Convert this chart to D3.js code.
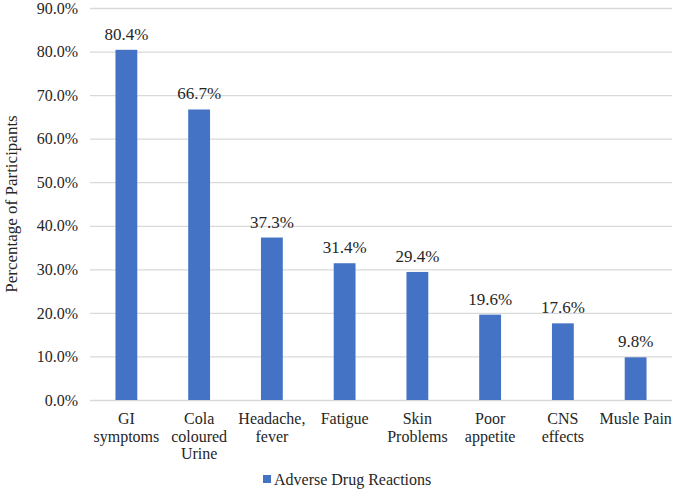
<!DOCTYPE html>
<html><head><meta charset="utf-8">
<script src="https://cdn.jsdelivr.net/npm/d3@7"></script>
<style>body{margin:0;background:#fff}svg{display:block}</style>
</head><body><svg id="c" width="679" height="489" style="font-family:'Liberation Serif',serif"></svg>
<script>
const categories = [["GI","symptoms"],["Cola","coloured","Urine"],["Headache,","fever"],["Fatigue"],["Skin","Problems"],["Poor","appetite"],["CNS","effects"],["Musle Pain"]];
const values = [80.4, 66.7, 37.3, 31.4, 29.4, 19.6, 17.6, 9.8];
const yTicks = [0,10,20,30,40,50,60,70,80,90];
const seriesName = "Adverse Drug Reactions";
const yTitle = "Percentage of Participants";

const FONT = "'Liberation Serif', serif";
const svg = d3.select("#c");
const m = {l:90, r:7, t:8, b:89};
const W = 679, H = 489;
const x = d3.scaleBand().domain(d3.range(values.length)).range([m.l, W-m.r]).paddingInner(0.7).paddingOuter(0.35);
const y = d3.scaleLinear().domain([0,90]).range([H-m.b, m.t]);
const color = "#4472C4";

const yAxis = d3.axisLeft(y).tickValues(yTicks).tickSize(-(W-m.r-m.l)).tickFormat(d=>d.toFixed(1)+"%");
const ya = svg.append("g").attr("transform",`translate(${m.l},0)`).call(yAxis);
ya.attr("font-family", null).attr("font-size", null);
ya.select(".domain").remove();
ya.selectAll(".tick line").attr("stroke","#d9d9d9").attr("stroke-width",1.3);
ya.selectAll(".tick text").attr("x",-12).style("font-size","16px");

svg.selectAll("rect.bar").data(values).join("rect").attr("class","bar")
 .attr("x",(d,i)=>x(i)).attr("width",x.bandwidth())
 .attr("y",d=>y(d)).attr("height",d=>y(0)-y(d)).attr("fill",color);

svg.selectAll("text.lbl").data(values).join("text").attr("class","lbl")
 .attr("x",(d,i)=>x(i)+x.bandwidth()/2).attr("y",d=>y(d)-10)
 .attr("text-anchor","middle").style("font-size","17px").text(d=>d.toFixed(1)+"%");

const cl = svg.selectAll("text.cat").data(categories).join("text").attr("class","cat")
 .attr("text-anchor","middle").style("font-size","16px")
 .attr("transform",(d,i)=>`translate(${x(i)+x.bandwidth()/2},${y(0)+24})`);
cl.selectAll("tspan").data(d=>d).join("tspan").attr("x",0).attr("dy",(d,i)=>i?17.5:0).text(d=>d);

svg.append("text").attr("class","ttl").attr("transform",`translate(17,${(m.t+H-m.b)/2}) rotate(-90)`)
 .attr("text-anchor","middle").style("font-size","17px").text(yTitle);

const lg = svg.append("g").attr("transform","translate(263,479)");
lg.append("rect").attr("x",0).attr("y",-4).attr("width",8).attr("height",8).attr("fill",color);
lg.append("text").attr("x",11).attr("y",5.5).style("font-size","16px").text(seriesName);

svg.selectAll("text").style("font-family", FONT).attr("fill","#262626");
</script></body></html>
